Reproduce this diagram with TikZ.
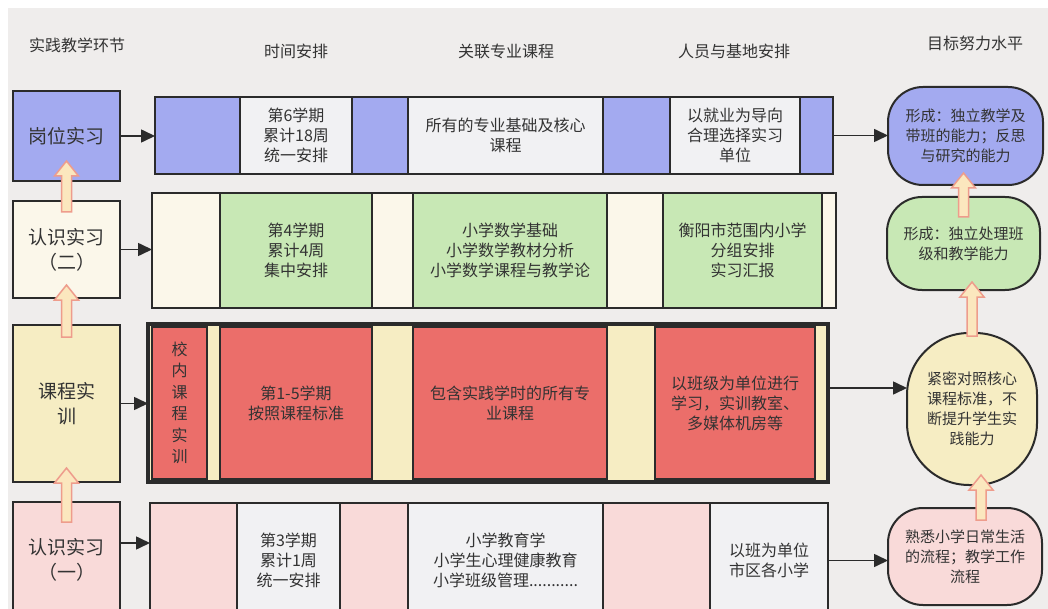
\documentclass[tikz,border=0pt]{standalone}
\usepackage{fontspec}
\setmainfont{Noto Sans CJK SC}
\usepackage{tikz}
\usetikzlibrary{calc,arrows.meta}

\definecolor{paper}{HTML}{EFEDEC}
\definecolor{ink}{HTML}{2B2B2B}
\definecolor{txt}{HTML}{333333}
\definecolor{lavender}{HTML}{A3AAF0}
\definecolor{cloud}{HTML}{F1F1F3}
\definecolor{ivory}{HTML}{FBF7EA}
\definecolor{mint}{HTML}{C8E8B5}
\definecolor{straw}{HTML}{F6EDC3}
\definecolor{coral}{HTML}{EB6E6A}
\definecolor{blush}{HTML}{F9DAD9}
\definecolor{liftfill}{HTML}{FBE7BE}
\definecolor{liftedge}{HTML}{EE9C8C}

\begin{document}
\begin{tikzpicture}[x=1pt,y=-1pt,phase/.style={rectangle, draw=ink, line width=2.5pt, minimum width=107pt, anchor=north west, inner sep=0pt, outer sep=0pt, align=center, text=txt, font=\fontsize{19}{25}\selectfont},band/.style={rectangle, draw=ink, line width=2pt, anchor=north west, inner sep=0pt, outer sep=0pt},cell/.style={rectangle, draw=ink, line width=1.8pt, anchor=north west, inner sep=0pt, outer sep=0pt, align=center, text=txt, font=\fontsize{16}{20}\selectfont},goal/.style={rectangle, rounded corners=35pt, draw=ink, line width=2pt, anchor=north west, inner sep=0pt, outer sep=0pt, align=center, text=txt, font=\fontsize{15}{20}\selectfont},head/.style={text=txt, font=\fontsize{16}{20}\selectfont},link/.style={draw=ink, line width=1.6pt, -{Triangle[length=14pt,width=13pt]}},lift/.style={draw=liftedge, fill=liftfill, line width=1.5pt, to path={let \p1=(\tikztostart), \p2=(\tikztotarget) in (\x1-5pt,\y1) -- (\x2-5pt,\y2-15pt) -- (\x2-12pt,\y2-15pt) -- (\x2,\y2) -- (\x2+12pt,\y2-15pt) -- (\x2+5pt,\y2-15pt) -- (\x1+5pt,\y1) -- cycle}}]
                \clip (0,0) rectangle (1048,609);
                \fill[white] (0,0) rectangle (1048,609);
                \fill[paper] (8,8) rectangle (1048,609);
                \node[head] (head_phase) at (77,45) {实践教学环节};
                \node[head] (head_time) at (296,51) {时间安排};
                \node[head] (head_course) at (506,51) {关联专业课程};
                \node[head] (head_base) at (734,51) {人员与基地安排};
                \node[head] (head_goal) at (975,43) {目标努力水平};
                \node[phase, fill=lavender, minimum height=90pt] (phase_post) at (13,91) {岗位实习};
                \node[phase, fill=ivory, minimum height=97pt] (phase_two) at (13,201) {认识实习\\（二）};
                \node[phase, fill=straw, minimum height=157pt] (phase_course) at (13,325) {课程实\\训};
                \node[phase, fill=blush, minimum height=116pt] (phase_one) at (13,502) {认识实习\\（一）};
                \node[band, fill=lavender, minimum width=678pt, minimum height=77pt] (band_post) at (155,97) {};
                \node[cell, fill=cloud, minimum width=112pt, minimum height=77pt] (time_post) at (240,97) {第6学期\\累计18周\\统一安排};
                \node[cell, fill=cloud, minimum width=195pt, minimum height=77pt] (course_post) at (408,97) {所有的专业基础及核心\\课程};
                \node[cell, fill=cloud, minimum width=130pt, minimum height=77pt] (base_post) at (670,97) {以就业为导向\\合理选择实习\\单位};
                \node[band, fill=ivory, minimum width=684pt, minimum height=115pt] (band_two) at (152,193) {};
                \node[cell, fill=mint, minimum width=152pt, minimum height=115pt] (time_two) at (220,193) {第4学期\\累计4周\\集中安排};
                \node[cell, fill=mint, minimum width=194pt, minimum height=115pt] (course_two) at (413,193) {小学数学基础\\小学数学教材分析\\小学数学课程与教学论};
                \node[cell, fill=mint, minimum width=159pt, minimum height=115pt] (base_two) at (663,193) {衡阳市范围内小学\\分组安排\\实习汇报};
                \node[band, fill=straw, line width=4pt, minimum width=680pt, minimum height=158pt] (band_course) at (148,324) {};
                \node[cell, fill=coral, minimum width=55pt, minimum height=152pt, font=\fontsize{16}{21.5}\selectfont] (school_course) at (152,327) {校\\内\\课\\程\\实\\训};
                \node[cell, fill=coral, minimum width=152pt, minimum height=152pt] (time_course) at (220,327) {第1-5学期\\按照课程标准};
                \node[cell, fill=coral, minimum width=194pt, minimum height=152pt] (course_course) at (413,327) {包含实践学时的所有专\\业课程};
                \node[cell, fill=coral, minimum width=160pt, minimum height=152pt] (base_course) at (655,327) {以班级为单位进行\\学习，实训教室、\\多媒体机房等};
                \node[band, fill=blush, minimum width=678pt, minimum height=115pt] (band_one) at (150,503) {};
                \node[cell, fill=cloud, minimum width=103pt, minimum height=115pt] (time_one) at (237,503) {第3学期\\累计1周\\统一安排};
                \node[cell, fill=cloud, minimum width=195pt, minimum height=115pt] (course_one) at (408,503) {小学教育学\\小学生心理健康教育\\小学班级管理...........};
                \node[cell, fill=cloud, minimum width=118pt, minimum height=115pt] (base_one) at (710,503) {以班为单位\\市区各小学};
                \node[goal, fill=lavender, minimum width=155pt, minimum height=98pt] (goal_post) at (888,87) {形成：独立教学及\\带班的能力；反思\\与研究的能力};
                \node[goal, fill=mint, minimum width=153pt, minimum height=93pt] (goal_two) at (887,197) {形成：独立处理班\\级和教学能力};
                \node[goal, fill=straw, rounded corners=62pt, minimum width=130pt, minimum height=152pt] (goal_course) at (907,333) {紧密对照核心\\课程标准，不\\断提升学生实\\践能力};
                \node[goal, fill=blush, minimum width=154pt, minimum height=97pt] (goal_one) at (888,508) {熟悉小学日常生活\\的流程；教学工作\\流程};
                \coordinate (row_one) at ($(phase_one.east)+(0,-17)$);
                \coordinate (row_course) at ($(band_course.east)+(0,-15)$);
                \draw[link] (phase_post.east) -- (phase_post.east -| band_post.west);
                \draw[link] (phase_two.east) -- (phase_two.east -| band_two.west);
                \draw[link] (phase_course.east) -- (phase_course.east -| band_course.west);
                \draw[link] (row_one) -- (row_one -| band_one.west);
                \draw[link] (band_post.east) -- (band_post.east -| goal_post.west);
                \draw[link] (row_course) -- (row_course -| goal_course.west);
                \draw[link] (band_one.east) -- (band_one.east -| goal_one.west);
                \draw[lift] ($(phase_one.north)+(0,20)$) to ($(phase_course.south)+(0,-14)$);
                \draw[lift] ($(phase_course.north)+(0,12)$) to ($(phase_two.south)+(0,-13)$);
                \draw[lift] ($(phase_two.north)+(0,11)$) to ($(phase_post.south)+(0,-20)$);
                \draw[lift] ($(goal_one.north)+(16,12)$) to ($(goal_course.south)+(9,-10)$);
                \draw[lift] ($(goal_course.north)+(0,3)$) to ($(goal_two.south)+(8.5,-8)$);
                \draw[lift] ($(goal_two.north)+(0,20)$) to ($(goal_post.south)+(-2,-12)$);
            \end{tikzpicture}
\end{document}
